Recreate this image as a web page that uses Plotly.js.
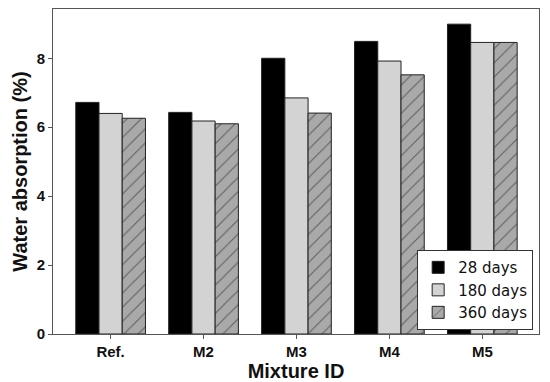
<!DOCTYPE html>
<html>
<head>
<meta charset="utf-8">
<script src="https://cdn.plot.ly/plotly-3.0.1.min.js"></script>
<style>html,body{margin:0;padding:0;background:#fff}#chart{width:550px;height:382px}</style>
</head>
<body>
<div id="chart"></div>
<script>
const categories = ["Ref.", "M2", "M3", "M4", "M5"];
const days28 = [6.72, 6.43, 8.00, 8.49, 8.99];
const days180 = [6.40, 6.18, 6.85, 7.92, 8.46];
const days360 = [6.26, 6.10, 6.41, 7.52, 8.46];
const seriesNames = ["28 days", "180 days", "360 days"];
const yTicks = [0, 2, 4, 6, 8];

const edge = {color: "#222", width: 1};
const traces = [
  {type: "bar", name: seriesNames[0], x: categories, y: days28,
   marker: {color: "#000000", line: edge}},
  {type: "bar", name: seriesNames[1], x: categories, y: days180,
   marker: {color: "#d3d3d3", line: edge}},
  {type: "bar", name: seriesNames[2], x: categories, y: days360,
   marker: {color: "#a9a9a9", line: edge,
     pattern: {shape: "/", fgcolor: "#111", bgcolor: "#a9a9a9", size: 10, solidity: 0.1, fillmode: "overlay"}}}
];

const tickFont = {family: "Liberation Sans, Arial, sans-serif", size: 15, color: "#111", weight: "bold"};
const titleFont = {family: "Liberation Sans, Arial, sans-serif", size: 20, color: "#111"};
const layout = {
  width: 550, height: 382,
  margin: {l: 53, r: 11, t: 9, b: 48},
  paper_bgcolor: "#fff", plot_bgcolor: "#fff",
  barmode: "group", bargap: 0.25, bargroupgap: 0,
  showlegend: true,
  legend: {x: 0.988, y: 0.012, xanchor: "right", yanchor: "bottom",
    bgcolor: "#fff", bordercolor: "#333", borderwidth: 1,
    font: {family: "DejaVu Sans, sans-serif", size: 15, color: "#111"}},
  xaxis: {
    range: [-0.62, 4.61], tickmode: "array", tickvals: categories, ticktext: categories,
    showline: true, linecolor: "#555", linewidth: 1, mirror: true,
    ticks: "outside", ticklen: 4, tickcolor: "#555", showgrid: false,
    tickfont: tickFont,
    title: {text: "<b>Mixture ID</b>", font: titleFont, standoff: 0}
  },
  yaxis: {
    range: [0, 9.43], tickmode: "array", tickvals: yTicks, ticktext: yTicks.map(String),
    showline: true, linecolor: "#555", linewidth: 1, mirror: true,
    ticks: "outside", ticklen: 4, tickcolor: "#555", showgrid: false, zeroline: false,
    tickfont: tickFont,
    title: {text: "<b>Water absorption (%)</b>", font: titleFont, standoff: 3}
  }
};
Plotly.newPlot("chart", traces, layout, {displayModeBar: false, staticPlot: true});
</script>
</body>
</html>
